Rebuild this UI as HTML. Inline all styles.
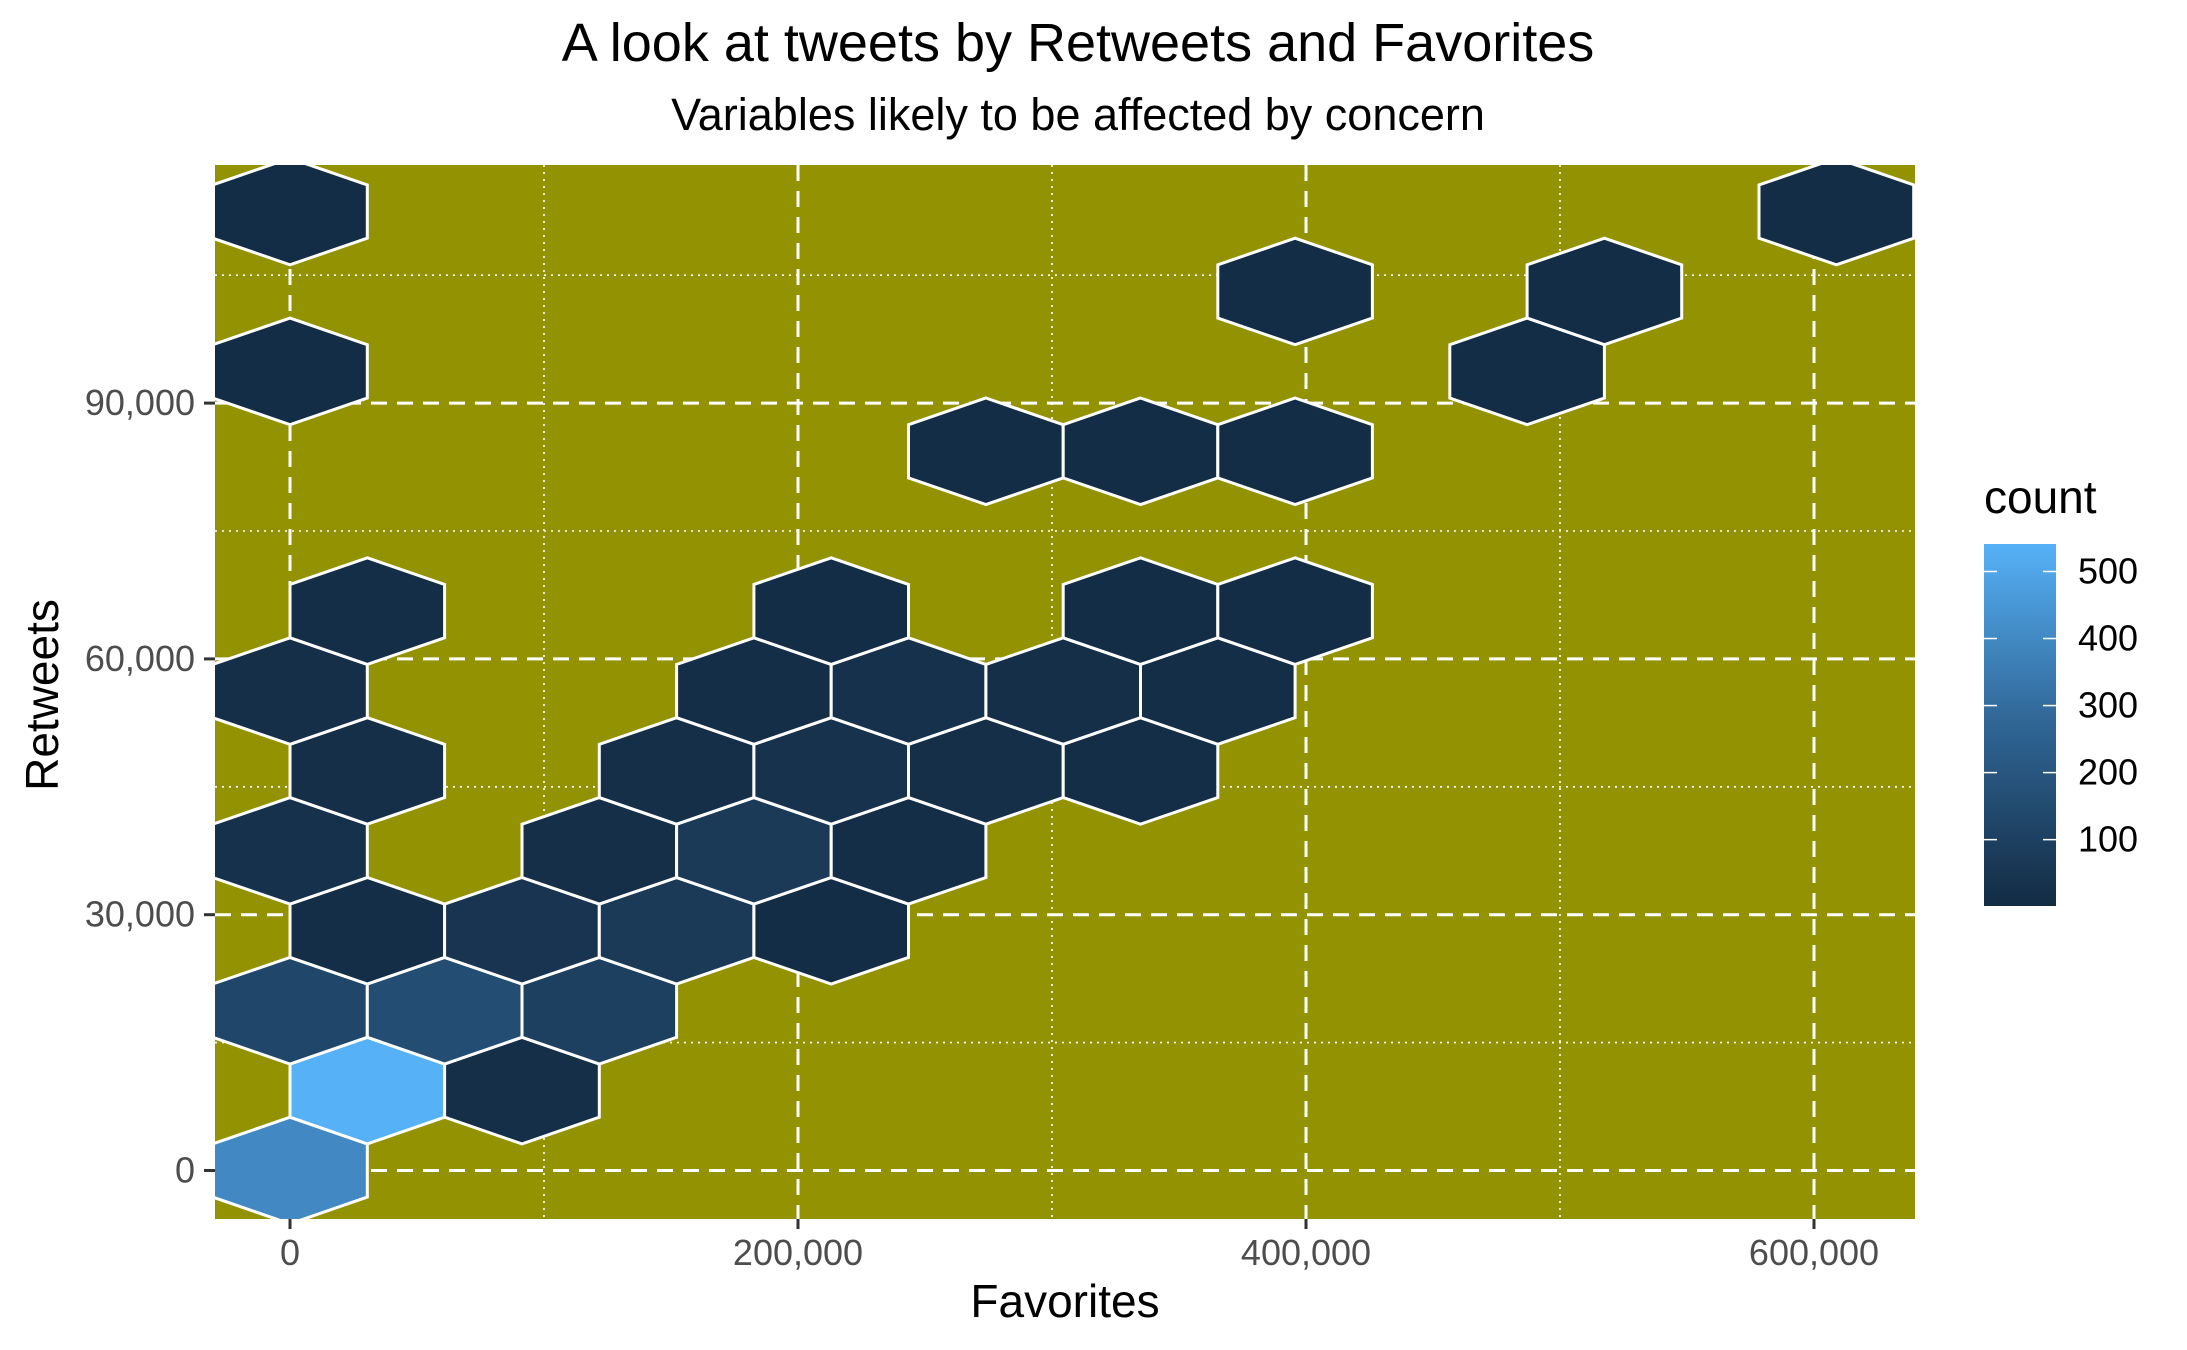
<!DOCTYPE html>
<html><head><meta charset="utf-8"><style>
html,body{margin:0;padding:0;background:#fff}
svg{display:block;font-family:"Liberation Sans",Arial,sans-serif}
</style></head><body>
<svg id="chart" width="2187" height="1350" viewBox="0 0 2187 1350">
<defs><linearGradient id="grad" x1="0" y1="1" x2="0" y2="0">
<stop offset="0" stop-color="#132B43"/><stop offset="0.5" stop-color="#2f6594"/><stop offset="1" stop-color="#56B1F7"/></linearGradient></defs>
<text x="1078" y="61" font-size="54" text-anchor="middle" fill="#000">A look at tweets by Retweets and Favorites</text>
<text x="1078" y="130" font-size="45" text-anchor="middle" fill="#000">Variables likely to be affected by concern</text>
<g id="panel"></g>
<g id="hexes"></g>
<g id="axes"></g>
<text x="1065" y="1317" font-size="46" text-anchor="middle" fill="#000">Favorites</text>
<text transform="translate(58,695) rotate(-90)" font-size="46" text-anchor="middle" fill="#000">Retweets</text>
<g>
<text x="1984" y="513" font-size="46" fill="#000">count</text>
<rect x="1984" y="544" width="72" height="362" fill="url(#grad)"/>
<g id="legendTicks"></g>
</g>
</svg>
<script>
const xTicks=[0,200000,400000,600000];
const xTickLabels=["0","200,000","400,000","600,000"];
const xMinor=[100000,300000,500000];
const yTicks=[0,30000,60000,90000];
const yTickLabels=["0","30,000","60,000","90,000"];
const yMinor=[15000,45000,75000,105000];
const legendTicks=[100,200,300,400,500];
const countMin=1, countMax=541;
const binDx=60880, binDy=9372;
// hex bins: row index, column index (odd rows offset by half), count
const hexRow=[0,1,1,2,2,2,3,3,3,3,4,4,4,4,5,5,5,5,5,6,6,6,6,6,7,7,7,7,9,9,9,10,10,11,11,12,12];
const hexCol=[0,0,1,0,1,2,0,1,2,3,0,2,3,4,0,2,3,4,5,0,3,4,5,6,0,3,5,6,4,5,6,0,8,6,8,0,10];
const hexCount=[400,541,20,130,160,100,15,45,70,10,30,20,70,15,20,20,35,20,15,20,15,30,20,15,15,10,10,10,10,10,10,10,10,10,10,10,10];

const NS="http://www.w3.org/2000/svg";
const PL=215,PR=1915,PT=165,PB=1219;
const X0=290,XS=508/200000,Y0=1170.5,YS=255.8/30000;
const sx=v=>X0+v*XS, sy=v=>Y0-v*YS;
function mk(tag,attrs,parent){const e=document.createElementNS(NS,tag);for(const k in attrs)e.setAttribute(k,attrs[k]);parent.appendChild(e);return e;}
const panel=document.getElementById('panel');
const bg=mk('rect',{x:PL,y:PT,width:PR-PL,height:PB-PT,fill:'#929203'},panel);


xMinor.forEach(v=>{const l=mk('line',{x1:sx(v),x2:sx(v),y1:PT,y2:PB,stroke:'#fff','stroke-width':1.6,'stroke-dasharray':'2 5'},panel);

});
yMinor.forEach(v=>{const l=mk('line',{x1:PL,x2:PR,y1:sy(v),y2:sy(v),stroke:'#fff','stroke-width':1.6,'stroke-dasharray':'2 5'},panel);

});
xTicks.forEach(v=>{const l=mk('line',{x1:sx(v),x2:sx(v),y1:PT,y2:PB,stroke:'#fff','stroke-width':3,'stroke-dasharray':'16 10'},panel);

});
yTicks.forEach(v=>{const l=mk('line',{x1:PL,x2:PR,y1:sy(v),y2:sy(v),stroke:'#fff','stroke-width':3,'stroke-dasharray':'16 10'},panel);

});

function color(c){const t=Math.max(0,Math.min(1,(c-countMin)/(countMax-countMin)));
const a=[0x13,0x2B,0x43],m=[0x2f,0x65,0x94],b=[0x56,0xB1,0xF7];
const u=t<0.5?t*2:(t-0.5)*2, p=t<0.5?a:m, q=t<0.5?m:b;
return 'rgb('+p.map((v,i)=>Math.round(v+(q[i]-v)*u)).join(',')+')';}
const hexG=document.getElementById('hexes');
const cp=mk('clipPath',{id:'clip'},hexG);
mk('rect',{x:PL,y:PT,width:PR-PL,height:PB-PT},cp);
hexG.setAttribute('clip-path','url(#clip)');
const hw=binDx/2, hr=binDy*2/3;
for(let i=0;i<hexRow.length;i++){
 const r=hexRow[i];const cx=(hexCol[i]+(r%2?0.5:0))*binDx, cy=r*binDy;
 const pts=[[cx,cy+hr],[cx+hw,cy+hr/2],[cx+hw,cy-hr/2],[cx,cy-hr],[cx-hw,cy-hr/2],[cx-hw,cy+hr/2]]
  .map(p=>sx(p[0]).toFixed(1)+','+sy(p[1]).toFixed(1)).join(' ');
 const h=mk('polygon',{points:pts,fill:color(hexCount[i]),stroke:'#fff','stroke-width':3,'stroke-linejoin':'miter'},hexG);
 
 
}
const ax=document.getElementById('axes');
xTicks.forEach((v,i)=>{const t=mk('line',{x1:sx(v),x2:sx(v),y1:PB,y2:PB+10,stroke:'#333','stroke-width':3},ax);


const tx=mk('text',{x:sx(v),y:PB+46,'font-size':36,'text-anchor':'middle',fill:'#4d4d4d'},ax);tx.textContent=xTickLabels[i];

});
yTicks.forEach((v,i)=>{const t=mk('line',{x1:PL-11,x2:PL,y1:sy(v),y2:sy(v),stroke:'#333','stroke-width':3},ax);


const tx=mk('text',{x:PL-20,y:sy(v)+12,'font-size':36,'text-anchor':'end',fill:'#4d4d4d'},ax);tx.textContent=yTickLabels[i];

});
const lg=document.getElementById('legendTicks');
const LB=906,LT=544;const ly=c=>LB-(c-countMin)/(countMax-countMin)*(LB-LT);
legendTicks.forEach(c=>{
 const a=mk('line',{x1:1984,x2:1997,y1:ly(c),y2:ly(c),stroke:'#fff','stroke-width':1.5},lg);
 
 
 const b=mk('line',{x1:2043,x2:2056,y1:ly(c),y2:ly(c),stroke:'#fff','stroke-width':1.5},lg);
 
 
 const t=mk('text',{x:2078,y:ly(c)+12,'font-size':36,fill:'#000'},lg);t.textContent=String(c);
 
 
});
</script>
</body></html>
